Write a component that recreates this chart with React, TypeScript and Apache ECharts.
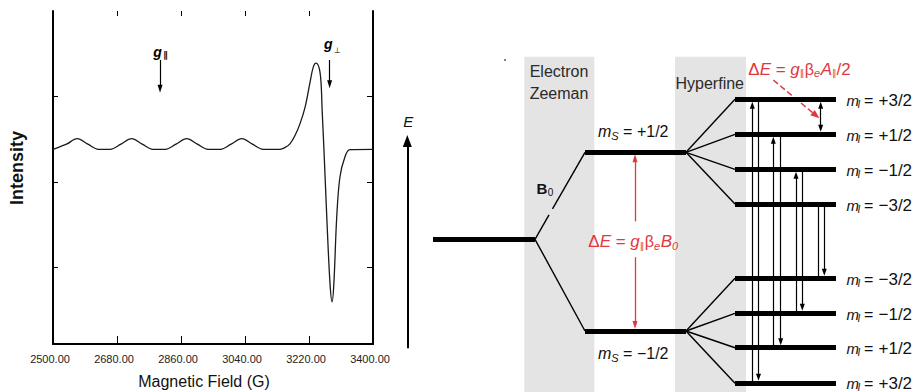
import React, { useEffect, useRef } from 'react';
import * as echarts from 'echarts';

// ---------------- Left panel: EPR spectrum ----------------
const fieldTickValues = [2500, 2680, 2860, 3040, 3220, 3400];
const intensityTickValues = [0, 1, 2];
const spectrumField = [
  2500, 2538, 2568, 2598, 2628, 2661, 2691, 2721, 2751, 2781, 2816, 2846, 2876, 2906, 2936,
  2971, 3001, 3031, 3061, 3091, 3138, 3152, 3167, 3181, 3195, 3209, 3223, 3232, 3240, 3249,
  3254, 3257, 3262, 3270, 3279, 3285, 3290, 3298, 3307, 3321, 3335, 3400,
];
const spectrumIntensity = [
  1.38, 1.44, 1.505, 1.44, 1.38, 1.38, 1.44, 1.505, 1.44, 1.38, 1.38, 1.44, 1.505, 1.44, 1.38,
  1.38, 1.44, 1.505, 1.44, 1.38, 1.38, 1.4, 1.447, 1.544, 1.684, 1.875, 2.167, 2.343, 2.389, 2.324,
  2.149, 1.836, 1.38, 0.588, -0.187, -0.406, -0.187, 0.588, 1.056, 1.29, 1.377, 1.38,
];
const gMarkerField = [2801, 3278]; // g-parallel, g-perp
const gMarkerTop = [2.426, 2.426];
const gMarkerBottom = [2.09, 2.141];

// ---------------- Right panel: energy levels ----------------
const groundEnergy = 0;
const electronSpinLabels = ['+1/2', '\u22121/2'];
const electronSpinEnergy = [0.973, -1.026];
const upperNuclearLabels = ['+3/2', '+1/2', '\u22121/2', '\u22123/2'];
const upperNuclearEnergy = [1.566, 1.174, 0.783, 0.395];
const lowerNuclearLabels = ['\u22123/2', '\u22121/2', '+1/2', '+3/2'];
const lowerNuclearEnergy = [-0.436, -0.828, -1.213, -1.611];
// [upper index, lower index] with the same m_I
const transitionPairs = [[0, 3], [1, 2], [2, 1], [3, 0]];

// layout (pixels for x, energy units offsets for arrow heads)
const LAYOUT = {
  groundX: [433, 535],
  msX: [585, 686],
  hfX: [735, 836],
  upX: [752.3, 773.3, 796, 818.3],
  downX: [758.5, 780.7, 802.3, 824.3],
  splitX: 820.7,
  redX: 635,
  axisX: 407.3,
  head: 0.067,
};

const FONT = '"Liberation Sans", "DejaVu Sans", Arial, sans-serif';
const RED = '#e03840';
const INK = '#111';

type Piece = { t: string; s: number; i?: boolean; b?: boolean; dy?: number; gap?: number };

function txt(x: number, y: number, text: string, s: number, o: any = {}) {
  return {
    type: 'text', z: 100, silent: true, x, y, rotation: o.rot || 0,
    style: {
      x: 0, y: 0, text, fontSize: s, fontFamily: FONT,
      fontStyle: o.i ? 'italic' : 'normal', fontWeight: o.b ? 'bold' : 'normal',
      fill: o.color || INK, textAlign: o.align || 'left', textVerticalAlign: 'middle',
    },
  };
}

function seq(ctx: CanvasRenderingContext2D, x: number, y: number, pieces: Piece[], color: string, align = 'left') {
  const widths = pieces.map((p) => {
    ctx.font = `${p.i ? 'italic ' : ''}${p.b ? 'bold ' : ''}${p.s}px ${FONT}`;
    return ctx.measureText(p.t).width;
  });
  const total = pieces.reduce((a, p, k) => a + (p.gap || 0) + widths[k], 0);
  let cx = align === 'center' ? x - total / 2 : x;
  return pieces.map((p, k) => {
    cx += p.gap || 0;
    const el = txt(cx, y + (p.dy || 0), p.t, p.s, { i: p.i, b: p.b, color });
    cx += widths[k];
    return el;
  });
}

export default function App() {
  const ref = useRef<HTMLDivElement>(null);
  useEffect(() => {
    if (!ref.current) return;
    const chart = echarts.init(ref.current, undefined, { renderer: 'svg' });
    const L = LAYOUT;
    const [Eu, El] = electronSpinEnergy;
    const lerp = (a: number, b: number, t: number) => a + (b - a) * t;

    const R = { coordinateSystem: 'cartesian2d', xAxisIndex: 2, yAxisIndex: 2 };
    const lines = (coords: any[], color: string, width: number, symbol: any, size: any, z = 3, type = 'solid') => ({
      type: 'lines', ...R, silent: true, z, symbol, symbolSize: size,
      lineStyle: { color, width, opacity: 1, curveness: 0, type },
      data: coords.map((c) => ({ coords: c })),
    });

    const levelCoords = [
      [[L.groundX[0], groundEnergy], [L.groundX[1], groundEnergy]],
      ...electronSpinEnergy.map((E) => [[L.msX[0], E], [L.msX[1], E]]),
      ...upperNuclearEnergy.map((E) => [[L.hfX[0], E], [L.hfX[1], E]]),
      ...lowerNuclearEnergy.map((E) => [[L.hfX[0], E], [L.hfX[1], E]]),
    ];
    const g0 = L.groundX[1];
    const g1 = L.msX[0];
    const connCoords = [
      [[g0, groundEnergy], [lerp(g0, g1, 0.28), lerp(groundEnergy, Eu, 0.28)]],
      [[lerp(g0, g1, 0.35), lerp(groundEnergy, Eu, 0.35)], [g1, Eu]],
      [[g0, groundEnergy], [g1, El]],
      ...upperNuclearEnergy.map((E) => [[L.msX[1], Eu], [L.hfX[0], E]]),
      ...lowerNuclearEnergy.map((E) => [[L.msX[1], El], [L.hfX[0], E]]),
    ];
    const headed: any[] = [];
    const plain: any[] = [];
    transitionPairs.forEach(([u, l], k) => {
      const up = [[L.upX[k], lowerNuclearEnergy[l]], [L.upX[k], upperNuclearEnergy[u] - (k < 3 ? L.head : 0)]];
      (k < 3 ? headed : plain).push(up);
      headed.push([[L.downX[k], upperNuclearEnergy[u]], [L.downX[k], lowerNuclearEnergy[l] + L.head]]);
    });

    const option: any = {
      animation: false,
      backgroundColor: '#fff',
      grid: [
        { left: 53, right: 550, top: 11, bottom: 48 },
        { left: 400, right: 0, top: 0, bottom: 0 },
      ],
      xAxis: [
        {
          gridIndex: 0, type: 'value', min: fieldTickValues[0], max: fieldTickValues[fieldTickValues.length - 1],
          interval: 180, position: 'bottom', splitLine: { show: false },
          axisLine: { show: true, onZero: false, lineStyle: { color: '#000', width: 2 } },
          axisTick: { show: true, inside: true, length: 8, lineStyle: { color: '#000', width: 1 } },
          axisLabel: {
            show: true, margin: 9, fontSize: 11, color: '#222', fontFamily: FONT,
            formatter: (v: number) => v.toFixed(2), padding: [0, 6, 0, 0],
          },
        },
        {
          gridIndex: 0, type: 'value', min: fieldTickValues[0], max: fieldTickValues[fieldTickValues.length - 1],
          interval: 180, position: 'top', splitLine: { show: false },
          axisLine: { show: false, onZero: false },
          axisTick: { show: true, inside: true, length: 5, lineStyle: { color: '#000', width: 1 } },
          axisLabel: { show: false },
        },
        { gridIndex: 1, type: 'value', min: 400, max: 923, show: false },
      ],
      yAxis: [
        {
          gridIndex: 0, type: 'value', min: -0.9, max: 3, position: 'left', splitLine: { show: false },
          axisLine: { show: true, onZero: false, lineStyle: { color: '#000', width: 2 } },
          axisTick: { show: true, inside: true, length: 5, customValues: intensityTickValues, lineStyle: { color: '#000', width: 1 } },
          axisLabel: { show: false },
        },
        {
          gridIndex: 0, type: 'value', min: -0.9, max: 3, position: 'right', splitLine: { show: false },
          axisLine: { show: true, onZero: false, lineStyle: { color: '#000', width: 2 } },
          axisTick: { show: true, inside: true, length: 6, customValues: intensityTickValues, lineStyle: { color: '#000', width: 1 } },
          axisLabel: { show: false },
        },
        { gridIndex: 1, type: 'value', min: -1.708, max: 2.677, show: false },
      ],
      series: [
        {
          type: 'line', xAxisIndex: 0, yAxisIndex: 0, showSymbol: false, smooth: 0.35, silent: true,
          lineStyle: { color: '#1a1a1a', width: 1.3 },
          data: spectrumField.map((f, k) => [f, spectrumIntensity[k]]),
        },
        {
          type: 'lines', coordinateSystem: 'cartesian2d', xAxisIndex: 0, yAxisIndex: 0, silent: true,
          symbol: ['none', 'triangle'], symbolSize: [[5, 8], [5, 8]],
          lineStyle: { color: '#000', width: 1.2, opacity: 1, curveness: 0 },
          data: gMarkerField.map((f, k) => ({ coords: [[f, gMarkerTop[k]], [f, gMarkerBottom[k]]] })),
        },
        lines(levelCoords, '#000', 5, 'none', 0, 5),
        lines(connCoords, '#000', 1.4, 'none', 0, 4),
        lines(headed, '#000', 1.2, ['none', 'triangle'], [[5, 7], [5, 7]], 3),
        lines(plain, '#000', 1.2, 'none', 0, 3),
        lines([[[L.splitX, upperNuclearEnergy[0] - L.head], [L.splitX, upperNuclearEnergy[1] + L.head]]],
          '#000', 1.2, ['triangle', 'triangle'], [[5, 7], [5, 7]], 3),
        lines([[[L.redX, 0.2], [L.redX, Eu - L.head]], [[L.redX, -0.2], [L.redX, El + L.head]]],
          RED, 1.3, ['none', 'triangle'], [[5, 8], [5, 8]], 3),
        lines([[[773.3, 1.782], [816, 1.385]]], RED, 1.5, ['none', 'triangle'], [[7, 9], [7, 9]], 3, 'dashed'),
        lines([[[L.axisX, -1.219], [L.axisX, 1.1]]], '#000', 2, ['none', 'triangle'], [[9, 12], [9, 12]], 3),
      ],
    };
    chart.setOption(option);

    const py = (E: number) => chart.convertToPixel({ yAxisIndex: 2 } as any, E) as unknown as number;
    const ctx = document.createElement('canvas').getContext('2d') as CanvasRenderingContext2D;
    const els: any[] = [];
    // grey bands
    els.push({ type: 'rect', z: 0, silent: true, shape: { x: 524.3, y: 56.7, width: 70, height: 340 }, style: { fill: '#e4e4e4' } });
    els.push({ type: 'rect', z: 0, silent: true, shape: { x: 675, y: 56.7, width: 71, height: 340 }, style: { fill: '#e4e4e4' } });
    els.push({ type: 'circle', z: 1, silent: true, shape: { cx: 505, cy: 60, r: 0.9 }, style: { fill: '#444' } });

    // left panel texts
    els.push(txt(17, 168, 'Intensity', 18, { b: true, align: 'center', rot: Math.PI / 2, color: '#111' }));
    els.push(txt(204, 381, 'Magnetic Field (G)', 16, { align: 'center', color: '#111' }));
    els.push(...seq(ctx, 153.3, 52.4, [{ t: 'g', s: 14, i: true, b: true }, { t: '\u2225', s: 9, b: true, dy: 3, gap: 1.5 }], '#000'));
    els.push(...seq(ctx, 324, 44.4, [{ t: 'g', s: 14, i: true, b: true }, { t: '\u22A5', s: 8, dy: 6, gap: 1.5 }], '#000'));

    // right panel texts
    els.push(txt(408.3, 121, 'E', 15, { i: true, align: 'center' }));
    els.push(txt(559, 71.7, 'Electron', 16, { align: 'center', color: '#2a2a2a' }));
    els.push(txt(559, 93.3, 'Zeeman', 16, { align: 'center', color: '#2a2a2a' }));
    els.push(txt(675.5, 83.3, 'Hyperfine', 16, { color: '#2a2a2a' }));
    els.push(...seq(ctx, 536.5, 188, [{ t: 'B', s: 15, b: true }, { t: '0', s: 10, dy: 4, gap: 0.5 }], '#111'));

    const msY = [py(Eu) - 21, py(El) + 22];
    electronSpinLabels.forEach((lab, k) => {
      els.push(...seq(ctx, 598, msY[k], [
        { t: 'm', s: 16, i: true }, { t: 'S', s: 11, i: true, dy: 5 }, { t: ' = ' + lab, s: 16 },
      ], '#111'));
    });
    const mI = (E: number, lab: string) => {
      const y = Math.min(py(E) + 1, 383);
      els.push(txt(846.5, y, 'm', 15, { i: true }));
      els.push(txt(857.5, y + 4, 'I', 10, { i: true }));
      els.push(txt(864, y, '=', 16));
      els.push(txt(878.5, y, lab, 17));
    };
    upperNuclearLabels.forEach((lab, k) => mI(upperNuclearEnergy[k], lab));
    lowerNuclearLabels.forEach((lab, k) => mI(lowerNuclearEnergy[k], lab));

    els.push(...seq(ctx, 748.3, 69, [
      { t: '\u0394', s: 17 }, { t: 'E', s: 17, i: true }, { t: ' = ', s: 17 }, { t: 'g', s: 17, i: true },
      { t: '\u2225', s: 9, dy: 4 }, { t: '\u03B2', s: 16, gap: 0.5 }, { t: 'e', s: 11, i: true, dy: 4 },
      { t: 'A', s: 17, i: true, gap: 0.5 }, { t: '\u2225', s: 9, dy: 4 }, { t: '/2', s: 17 },
    ], RED));
    els.push(...seq(ctx, 588.3, 241.7, [
      { t: '\u0394', s: 17 }, { t: 'E', s: 17, i: true }, { t: ' = ', s: 17 }, { t: 'g', s: 17, i: true },
      { t: '\u2225', s: 9, dy: 4 }, { t: '\u03B2', s: 16, gap: 0.5 }, { t: 'e', s: 11, i: true, dy: 4 },
      { t: 'B', s: 17, i: true, gap: 0.5 }, { t: '0', s: 11, i: true, dy: 4 },
    ], RED));

    chart.setOption({ graphic: { elements: els } });
    return () => chart.dispose();
  }, []);
  return (
    <div
      ref={ref}
      style={{ position: 'fixed', left: 0, top: 0, width: 923, height: 392, background: '#fff' }}
    />
  );
}
